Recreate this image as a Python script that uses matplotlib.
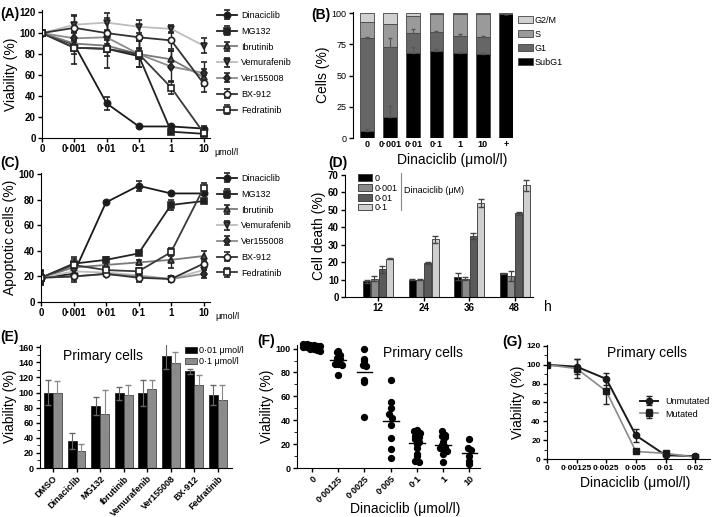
import numpy as np
import matplotlib.pyplot as plt

plt.rcParams['font.family'] = ['Liberation Sans', 'DejaVu Sans']

# ---- data ----
conc_a = ['0', '0·001', '0·01', '0·1', '1', '10']
drugs = ['Dinaciclib', 'MG132', 'Ibrutinib', 'Vemurafenib', 'Ver155008', 'BX-912', 'Fedratinib']

via_a = {
    'Dinaciclib': [100, 89, 33, 11, 11, 9],
    'MG132': [100, 86, 85, 78, 6, 4],
    'Ibrutinib': [100, 90, 88, 80, 75, 58],
    'Vemurafenib': [100, 108, 110, 106, 104, 88],
    'Ver155008': [100, 95, 96, 80, 68, 62],
    'BX-912': [100, 105, 100, 96, 93, 52],
    'Fedratinib': [100, 86, 85, 80, 48, 5],
}
err_a = {
    'Dinaciclib': [0, 3, 6, 1, 1, 2],
    'MG132': [0, 3, 3, 2, 1, 1],
    'Ibrutinib': [0, 4, 5, 5, 8, 8],
    'Vemurafenib': [0, 8, 9, 6, 4, 7],
    'Ver155008': [0, 15, 18, 12, 15, 10],
    'BX-912': [0, 12, 10, 10, 8, 8],
    'Fedratinib': [0, 15, 18, 12, 6, 3],
}

apo_c = {
    'Dinaciclib': [19, 22, 78, 91, 85, 85],
    'MG132': [19, 30, 33, 38, 76, 79],
    'Ibrutinib': [19, 27, 29, 31, 33, 36],
    'Vemurafenib': [19, 24, 23, 21, 18, 25],
    'Ver155008': [19, 20, 22, 20, 18, 22],
    'BX-912': [19, 20, 22, 19, 18, 30],
    'Fedratinib': [19, 29, 25, 24, 39, 89],
}
err_c = {
    'Dinaciclib': [5, 3, 1, 4, 1, 1],
    'MG132': [6, 5, 2, 1, 4, 1],
    'Ibrutinib': [5, 4, 2, 2, 6, 4],
    'Vemurafenib': [3, 3, 2, 2, 2, 4],
    'Ver155008': [3, 3, 2, 2, 2, 3],
    'BX-912': [3, 4, 2, 3, 2, 4],
    'Fedratinib': [4, 5, 2, 3, 3, 4],
}

conc_b = ['0', '0·001', '0·01', '0·1', '1', '10', '+']
subg1 = [6, 17, 68, 70, 68, 67, 99]
g1 = [74, 56, 16, 15, 14, 14, 0.5]
s_phase = [13, 18, 14, 14, 17, 18, 0]
g2m = [7, 9, 2, 1, 1, 1, 0.5]
err_b_subg1 = [1, 9, 5, 1, 1, 1, 0]
err_b_g1 = [1, 7, 3, 1, 1, 1, 0]

hours = ['12', '24', '36', '48']
dose_d = ['0', '0·001', '0·01', '0·1']
death_d = [[9, 10, 11.5, 13.5],
           [10.5, 10, 10.5, 12],
           [16, 19.5, 35, 48],
           [22, 33, 54, 64]]
err_d = [[1, 0.3, 2, 0.5],
         [1.5, 0.3, 1, 3],
         [2, 0.3, 2, 1],
         [0.3, 2, 2.5, 3]]

drugs_e = ['DMSO', 'Dinaciclib', 'MG132', 'Ibrutinib', 'Vemurafenib', 'Ver155008', 'BX-912', 'Fedratinib']
via_e_001 = [100, 36, 82, 99, 99, 148, 128, 97]
via_e_01 = [100, 22, 71, 97, 105, 139, 110, 90]
err_e_001 = [17, 11, 12, 9, 17, 17, 3, 13]
err_e_01 = [15, 10, 32, 13, 12, 15, 13, 20]

conc_f = ['0', '0·00125', '0·0025', '0·005', '0·1', '1', '10']
via_f = [
    [104, 104, 103, 103, 102, 102, 101, 101, 100, 100, 99, 98],
    [98, 97, 95, 92, 91, 87, 87, 86, 78],
    [100, 91, 90, 86, 85, 74, 72, 43],
    [74, 55, 50, 45, 42, 36, 25, 16, 8],
    [32, 31, 30, 29, 27, 26, 24, 22, 20, 17, 12, 10, 6, 5],
    [31, 28, 27, 26, 22, 19, 18, 17, 16, 14, 12, 5],
    [24, 17, 15, 10, 6, 3],
]

conc_g = ['0', '0·00125', '0·0025', '0·005', '0·01', '0·02']
unmut = [100, 98, 85, 25, 4, 3]
unmut_err = [0, 8, 6, 7, 1, 1]
mut = [100, 96, 72, 8, 6, 2]
mut_err = [0, 10, 14, 1, 1, 1]

# ---- figure ----
fig = plt.figure(figsize=(7.14, 5.17), dpi=100)
W, H = 714, 517


def add_ax(l, t, r, b):
    return fig.add_axes([l / W, 1 - b / H, (r - l) / W, (b - t) / H])


def style(ax, fs=7, bold_y=True):
    ax.spines['top'].set_visible(False)
    ax.spines['right'].set_visible(False)
    ax.tick_params(labelsize=fs, width=1, length=3, direction='out', pad=1.5)
    for lab in ax.get_xticklabels():
        lab.set_fontweight('bold')
    if bold_y:
        for lab in ax.get_yticklabels():
            lab.set_fontweight('bold')


def label(x, y, s, **kw):
    fig.text(x / W, 1 - y / H, s, **kw)


styles = {
    'Dinaciclib': dict(color='#1a1a1a', marker='o', mfc='#1a1a1a'),
    'MG132': dict(color='#222222', marker='s', mfc='#222222'),
    'Ibrutinib': dict(color='#7a7a7a', marker='^', mfc='#555555'),
    'Vemurafenib': dict(color='#bdbdbd', marker='v', mfc='#444444'),
    'Ver155008': dict(color='#8c8c8c', marker='d', mfc='#333333'),
    'BX-912': dict(color='#333333', marker='o', mfc='white'),
    'Fedratinib': dict(color='#3a3a3a', marker='s', mfc='white'),
}


def dose_panel(ax, vals, errs, ylim, yticks, ylabel):
    x = np.arange(len(conc_a))
    for d in drugs:
        st = styles[d]
        ax.errorbar(x, vals[d], yerr=errs[d], color=st['color'], marker=st['marker'],
                    mfc=st['mfc'], mec='#222222', ms=4.5, mew=1.2, lw=1.3,
                    ecolor='#222222', elinewidth=1, capsize=2.5, label=d)
    ax.set_xlim(0, 5.2)
    ax.set_ylim(*ylim)
    ax.set_yticks(yticks)
    ax.set_xticks(x)
    ax.set_xticklabels(conc_a)
    ax.set_ylabel(ylabel, fontsize=10, labelpad=1)
    style(ax)
    ax.legend(loc='upper left', bbox_to_anchor=(1.02, 1.02), frameon=False,
              fontsize=6.5, handlelength=2.2, labelspacing=0.75, handletextpad=0.5,
              borderaxespad=0)
    ax.text(5.35, -0.075 * ylim[1], 'μmol/l', fontsize=6.5, va='top')


# A
axA = add_ax(42, 10, 210, 138)
dose_panel(axA, via_a, err_a, (0, 122), np.arange(0, 121, 20), 'Viability (%)')
label(0, 14, '(A)', fontsize=10, fontweight='bold', va='center')

# C
axC = add_ax(41, 173, 210, 302)
dose_panel(axC, apo_c, err_c, (0, 101), np.arange(0, 101, 20), 'Apoptotic cells (%)')
label(0, 163, '(C)', fontsize=10, fontweight='bold', va='center')

# B
axB = add_ax(353, 12, 513, 138)
xb = np.arange(len(conc_b))
bw = 0.6
bot = np.zeros(len(conc_b))
for vals, col, lab in [(subg1, 'black', 'SubG1'), (g1, '#666666', 'G1'),
                       (s_phase, '#9a9a9a', 'S'), (g2m, '#d0d0d0', 'G2/M')]:
    axB.bar(xb, vals, bw, bottom=bot, color=col, edgecolor='#444444', lw=0.6, label=lab)
    bot = bot + np.array(vals)
axB.errorbar(xb, subg1, yerr=[np.zeros(7), err_b_subg1], fmt='none', ecolor='#555555',
             elinewidth=0.8, capsize=1.5)
top_g1 = np.array(subg1) + np.array(g1)
axB.errorbar(xb, top_g1, yerr=[np.zeros(7), err_b_g1], fmt='none', ecolor='#555555',
             elinewidth=0.8, capsize=1.5)
axB.set_xlim(-0.6, 6.3)
axB.set_ylim(0, 101)
axB.set_yticks([0, 25, 50, 75, 100])
axB.set_xticks(xb)
axB.set_xticklabels(conc_b)
axB.spines['bottom'].set_visible(False)
style(axB, fs=6.5, bold_y=False)
axB.tick_params(axis='x', length=0)
axB.set_ylabel('Cells (%)', fontsize=10, labelpad=1)
label(452, 160, 'Dinaciclib (μmol/l)', fontsize=10, ha='center', va='center')
hB, lB = axB.get_legend_handles_labels()
axB.legend(hB[::-1], lB[::-1], loc='upper left', bbox_to_anchor=(1.01, 1.0), frameon=False,
           fontsize=6.5, handlelength=1.6, handleheight=0.7, labelspacing=0.55,
           handletextpad=0.2, borderaxespad=0)
label(311, 15, '(B)', fontsize=10, fontweight='bold', va='center')

# D
axD = add_ax(345, 175, 533, 297)
xd = np.arange(len(hours))
dw = 0.17
cols_d = ['black', '#8a8a8a', '#5a5a5a', '#cfcfcf']
for i in range(4):
    axD.bar(xd + (i - 1.5) * dw, death_d[i], dw * 0.92, yerr=err_d[i], color=cols_d[i],
            edgecolor='#333333', lw=0.6, capsize=2, error_kw=dict(elinewidth=0.8, ecolor='#444444'),
            label=dose_d[i])
axD.set_xlim(-0.73, 3.4)
axD.set_ylim(0, 70)
axD.set_yticks(np.arange(0, 71, 10))
axD.set_xticks(xd)
axD.set_xticklabels(hours)
style(axD)
axD.set_ylabel('Cell death (%)', fontsize=10, labelpad=1)
axD.legend(loc='upper left', bbox_to_anchor=(0.05, 1.04), frameon=False, fontsize=6.5,
           handlelength=1.6, handleheight=0.7, labelspacing=0.1, handletextpad=0.2,
           borderaxespad=0)
axD.plot([0.5, 0.5], [50, 71], color='#888888', lw=0.8, clip_on=False)
axD.text(0.56, 61, 'Dinaciclib (μM)', fontsize=6.5, va='center')
label(544, 307, 'h', fontsize=10, va='center')
label(328, 163, '(D)', fontsize=10, fontweight='bold', va='center')

# E
axE = add_ax(40, 345, 232, 468)
xe = np.arange(len(drugs_e))
ew = 0.38
axE.bar(xe - ew / 2, via_e_001, ew, yerr=err_e_001, color='black', edgecolor='#222222', lw=0.6,
        capsize=2, error_kw=dict(elinewidth=0.8, ecolor='#666666'), label='0·01 μmol/l')
axE.bar(xe + ew / 2, via_e_01, ew, yerr=err_e_01, color='#8c8c8c', edgecolor='#444444', lw=0.6,
        capsize=2, error_kw=dict(elinewidth=0.8, ecolor='#888888'), label='0·1 μmol/l')
axE.set_xlim(-0.55, 7.6)
axE.set_ylim(0, 163)
axE.set_yticks(np.arange(0, 161, 20))
axE.set_yticks(np.arange(0, 161, 10), minor=True)
axE.set_xticks(xe)
axE.set_xticklabels(drugs_e, rotation=45, ha='right', rotation_mode='anchor')
style(axE, fs=6.5)
axE.tick_params(axis='y', which='minor', length=2)
axE.set_ylabel('Viability (%)', fontsize=10, labelpad=1)
axE.legend(loc='upper right', bbox_to_anchor=(1.08, 1.02), frameon=False, fontsize=6.5,
           handlelength=1.4, handleheight=0.7, labelspacing=0.2, handletextpad=0.2,
           borderaxespad=0)
axE.text(0.12, 0.97, 'Primary cells', transform=axE.transAxes, fontsize=10, va='top')
label(0, 337, '(E)', fontsize=10, fontweight='bold', va='center')

# F
axF = add_ax(297, 345, 480, 468)
for i, vals in enumerate(via_f):
    v = np.sort(np.array(vals))[::-1]
    bins = np.floor(v / 3.5)
    offs = np.zeros(len(v))
    for b in np.unique(bins):
        idx = np.where(bins == b)[0]
        m = len(idx)
        offs[idx] = (np.arange(m) - (m - 1) / 2) * 0.13
    axF.scatter(i + offs, v, s=18, color='black', zorder=3, clip_on=False)
    axF.plot([i - 0.3, i + 0.3], [np.mean(vals)] * 2, color='black', lw=1)
axF.set_xlim(-0.57, 6.4)
axF.set_ylim(0, 103)
axF.set_yticks(np.arange(0, 101, 20))
axF.set_yticks(np.arange(0, 101, 10), minor=True)
axF.set_xticks(np.arange(len(conc_f)))
axF.set_xticklabels(conc_f, rotation=45, ha='right', rotation_mode='anchor')
style(axF, fs=6.5)
axF.tick_params(axis='y', which='minor', length=2)
axF.set_ylabel('Viability (%)', fontsize=10, labelpad=1)
label(405, 509, 'Dinaciclib (μmol/l)', fontsize=10, ha='center', va='center')
axF.text(0.47, 0.99, 'Primary cells', transform=axF.transAxes, fontsize=10, va='top')
label(257, 341, '(F)', fontsize=10, fontweight='bold', va='center')

# G
axG = add_ax(547, 345, 710, 459)
xg = np.arange(len(conc_g))
axG.errorbar(xg, unmut, yerr=unmut_err, color='#1a1a1a', marker='o', ms=4.5, lw=1.4,
             ecolor='#222222', elinewidth=1, capsize=2.5, label='Unmutated')
axG.errorbar(xg, mut, yerr=mut_err, color='#8a8a8a', marker='s', mfc='#1a1a1a', mec='#1a1a1a',
             ms=4.5, lw=1.2, ecolor='#222222', elinewidth=1, capsize=2.5, label='Mutated')
axG.set_xlim(0, 5.5)
axG.set_ylim(0, 121)
axG.set_yticks(np.arange(0, 121, 20))
axG.set_yticks(np.arange(0, 121, 10), minor=True)
axG.set_xticks(xg)
axG.set_xticklabels(conc_g)
style(axG, fs=6)
axG.tick_params(axis='y', which='minor', length=2)
axG.set_ylabel('Viability (%)', fontsize=10, labelpad=1)
label(635, 483, 'Dinaciclib (μmol/l)', fontsize=10, ha='center', va='center')
axG.legend(loc='center right', bbox_to_anchor=(1.02, 0.45), frameon=False, fontsize=6.5,
           handlelength=2, labelspacing=0.4, borderaxespad=0)
axG.text(0.37, 0.99, 'Primary cells', transform=axG.transAxes, fontsize=10, va='top')
label(502, 342, '(G)', fontsize=10, fontweight='bold', va='center')

fig.savefig('out.png', dpi=100)
